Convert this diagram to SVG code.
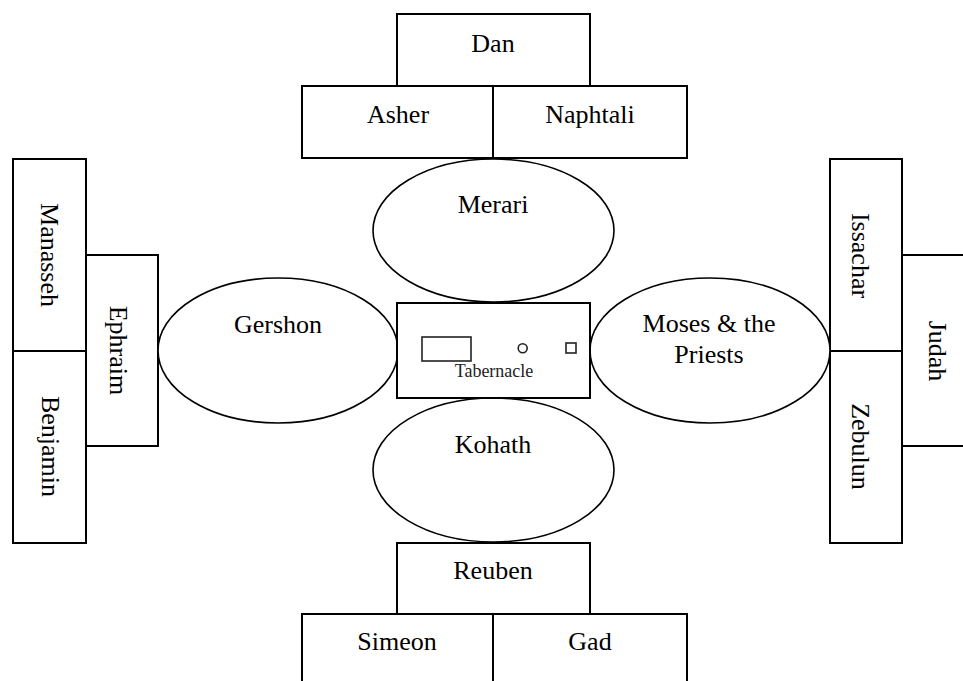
<svg xmlns="http://www.w3.org/2000/svg" width="963" height="681" viewBox="0 0 963 681">
<style>
.box{fill:#fff;stroke:#000;stroke-width:2}
.ell{fill:#fff;stroke:#000;stroke-width:1.6}
.t{font-family:"Liberation Serif","Times New Roman",serif;font-size:26px;fill:#000;text-anchor:middle}
.ts{font-family:"Liberation Serif","Times New Roman",serif;font-size:18px;fill:#222;text-anchor:middle}
.thin{fill:none;stroke:#222;stroke-width:1.6}
</style>
<rect width="963" height="681" fill="#fff"/>
<g id="connectors"/>
<g id="dan"><rect class="box" x="397" y="14" width="193" height="72"/><text class="t" x="493" y="52">Dan</text></g>
<g id="asher"><rect class="box" x="302" y="86" width="191" height="72"/><text class="t" x="398" y="123">Asher</text></g>
<g id="naphtali"><rect class="box" x="493" y="86" width="194" height="72"/><text class="t" x="590" y="123">Naphtali</text></g>
<g id="reuben"><rect class="box" x="397" y="543" width="193" height="71"/><text class="t" x="493" y="579">Reuben</text></g>
<g id="simeon"><rect class="box" x="302" y="614" width="191" height="80"/><text class="t" x="397" y="650">Simeon</text></g>
<g id="gad"><rect class="box" x="493" y="614" width="194" height="80"/><text class="t" x="590" y="650">Gad</text></g>
<g id="manasseh"><rect class="box" x="13" y="159" width="73" height="192"/><text class="t" transform="translate(41,255) rotate(90)">Manasseh</text></g>
<g id="benjamin"><rect class="box" x="13" y="351" width="73" height="192"/><text class="t" transform="translate(42,446.5) rotate(90)">Benjamin</text></g>
<g id="ephraim"><rect class="box" x="86" y="255" width="72" height="191"/><text class="t" transform="translate(110,350.5) rotate(90)">Ephraim</text></g>
<g id="issachar"><rect class="box" x="830" y="159" width="72" height="192"/><text class="t" transform="translate(852,255.5) rotate(90)">Issachar</text></g>
<g id="zebulun"><rect class="box" x="830" y="351" width="72" height="192"/><text class="t" transform="translate(852,446.5) rotate(90)">Zebulun</text></g>
<g id="judah"><rect class="box" x="902" y="255" width="80" height="191"/><text class="t" transform="translate(928.5,351) rotate(90)">Judah</text></g>
<g id="merari"><ellipse class="ell" cx="493.5" cy="230.5" rx="120.5" ry="71.5"/><text class="t" x="493" y="213">Merari</text></g>
<g id="gershon"><ellipse class="ell" cx="278" cy="350.5" rx="120" ry="72.5"/><text class="t" x="278" y="333">Gershon</text></g>
<g id="moses"><ellipse class="ell" cx="710" cy="350.5" rx="120" ry="72.5"/><text class="t" x="709" y="332">Moses &amp; the</text><text class="t" x="709" y="363">Priests</text></g>
<g id="kohath"><ellipse class="ell" cx="493.5" cy="470" rx="120.5" ry="72"/><text class="t" x="493" y="453">Kohath</text></g>
<g id="tabernacle"><rect class="box" x="397" y="303" width="193" height="95"/><rect class="thin" x="422" y="337" width="49" height="24"/><circle class="thin" cx="522.7" cy="348.3" r="4.5"/><rect class="thin" x="566" y="343" width="10" height="10"/><text class="ts" x="494" y="377">Tabernacle</text></g>
</svg>
